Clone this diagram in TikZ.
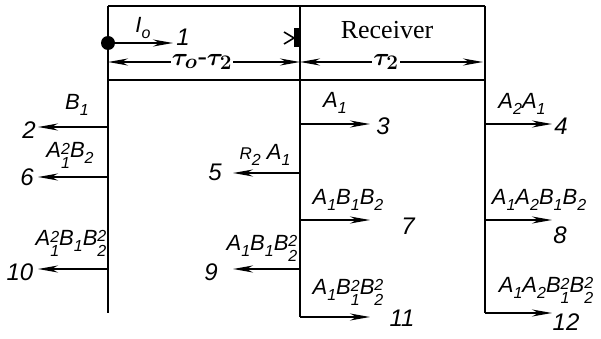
\documentclass[tikz,border=0pt]{standalone}
\usepackage{fontspec}
\setmainfont{Liberation Serif}
\newfontfamily\labfont{Liberation Sans}
\usetikzlibrary{arrows.meta}
\newcommand\sub[1]{\raisebox{-0.3em}{\fontsize{16}{16}\selectfont #1}}
\newcommand\supsub[2]{\raisebox{-0.5em}{\fontsize{16}{17}\selectfont\shortstack[l]{#1\\#2}}}
\begin{document}
\begin{tikzpicture}[x=1pt,y=-1pt,
  wall/.style={line width=2.6pt},
  sig/.style={line width=2pt,-{Stealth[length=20pt,width=7pt]}},
  dsig/.style={line width=2pt,{Stealth[length=20pt,width=7pt]}-{Stealth[length=20pt,width=7pt]}},
  lab/.style={font=\labfont\itshape\fontsize{22}{24}\selectfont, inner sep=0pt},
  num/.style={font=\labfont\itshape\fontsize{24}{28}\selectfont, inner sep=0pt},
  tau/.style={font=\fontsize{28}{32}\selectfont\boldmath, inner sep=1pt, fill=white}]
\useasboundingbox (0,0) rectangle (601,339);
% walls
\coordinate (LT) at (108,6);  \coordinate (LB) at (108,313);
\coordinate (MT) at (300,6);  \coordinate (MB) at (300,317);
\coordinate (RT) at (485,6);  \coordinate (RB) at (485,313);
\coordinate (LH) at (108,80); \coordinate (RH) at (485,80);
\draw[wall] (LT) -- (RT);
\draw[wall] (LH) -- (RH);
\draw[wall] (LT) -- (LB);
\draw[wall] (MT) -- (MB);
\draw[wall] (RT) -- (RB);
% source
\fill (108,43) circle (7) coordinate (src);
\coordinate (e1) at (173,43);
\draw[sig] (src) -- (e1);
\node[lab] (I0) at (143,28) {I\sub{o}};
\node[num] (n1) at (183,37) {1};
% receiver mark
\fill (294,28) rectangle (300,47);
\draw[line width=1.6pt] (284,32) -- (294,38) -- (284,44);
\node[font=\fontsize{26}{30}\selectfont, inner sep=0pt] (rec) at (387,30) {Receiver};
% time spans
\coordinate (tl) at (108,62); \coordinate (tm) at (300,62); \coordinate (tr) at (483,62);
\draw[dsig] (tl) -- (tm);
\draw[dsig] (tm) -- (tr);
\node[tau] (t1) at (202,62) {$\tau_o\hbox{-}\tau_2$};
\node[tau] (t2) at (386,62) {$\tau_2$};
% left wall arrows
\coordinate (a2s) at (108,127); \coordinate (a2e) at (38,127);
\draw[sig] (a2s) -- (a2e);
\node[lab] (l2) at (77,105) {B\sub{1}};
\node[num] (n2) at (29,130) {2};
\coordinate (a6s) at (108,177); \coordinate (a6e) at (38,177);
\draw[sig] (a6s) -- (a6e);
\node[lab] (l6) at (70,155) {A\supsub{2}{1}B\sub{2}};
\node[num] (n6) at (27,177) {6};
\coordinate (a10s) at (108,269); \coordinate (a10e) at (38,269);
\draw[sig] (a10s) -- (a10e);
\node[lab] (l10) at (71,243) {A\supsub{2}{1}B\sub{1}B\supsub{2}{2}};
\node[num] (n10) at (20,272) {10};
% middle wall arrows
\coordinate (a3e) at (370,124);
\draw[sig] (300,124) coordinate (a3s) -- (a3e);
\node[lab] (l3) at (335,103) {A\sub{1}};
\node[num] (n3) at (383,126) {3};
\coordinate (a5e) at (233,173);
\draw[sig] (300,173) coordinate (a5s) -- (a5e);
\node[lab] (l5) at (265,155) {{\fontsize{17}{18}\selectfont R}\sub{2} A\sub{1}};
\node[num] (n5) at (215,172) {5};
\coordinate (a7e) at (370,220);
\draw[sig] (300,220) coordinate (a7s) -- (a7e);
\node[lab] (l7) at (348,200) {A\sub{1}B\sub{1}B\sub{2}};
\node[num] (n7) at (408,226) {7};
\coordinate (a9e) at (233,269);
\draw[sig] (300,269) coordinate (a9s) -- (a9e);
\node[lab] (l9) at (262,248) {A\sub{1}B\sub{1}B\supsub{2}{2}};
\node[num] (n9) at (211,272) {9};
\draw[sig] (MB) -- (370,317) coordinate (a11e);
\node[lab] (l11) at (348,292) {A\sub{1}B\supsub{2}{1}B\supsub{2}{2}};
\node[num] (n11) at (402,318) {11};
% right wall arrows
\coordinate (a4e) at (552,124);
\draw[sig] (485,124) coordinate (a4s) -- (a4e);
\node[lab] (l4) at (522,104) {A\sub{2}A\sub{1}};
\node[num] (n4) at (561,126) {4};
\coordinate (a8e) at (552,220);
\draw[sig] (485,220) coordinate (a8s) -- (a8e);
\node[lab] (l8) at (539,200) {A\sub{1}A\sub{2}B\sub{1}B\sub{2}};
\node[num] (n8) at (560,235) {8};
\draw[sig] (RB) -- (552,313) coordinate (a12e);
\node[lab] (l12) at (546,290) {A\sub{1}A\sub{2}B\supsub{2}{1}B\supsub{2}{2}};
\node[num] (n12) at (566,322) {12};
\end{tikzpicture}
\end{document}
